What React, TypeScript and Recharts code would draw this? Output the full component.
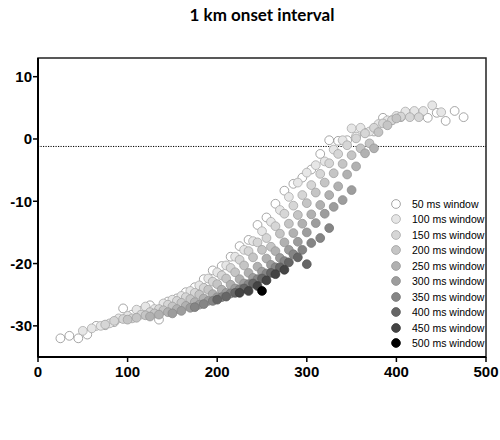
import React from 'react';
import {
  ScatterChart,
  Scatter,
  XAxis,
  YAxis,
  ReferenceLine,
  ReferenceArea,
} from 'recharts';

// window length per series
const WINDOWS = ['50 ms window', '100 ms window', '150 ms window', '200 ms window', '250 ms window',
  '300 ms window', '350 ms window', '400 ms window', '450 ms window', '500 ms window'];

const X_TICKS = [0, 100, 200, 300, 400, 500];
const Y_TICKS = [-30, -20, -10, 0, 10];
const THRESHOLD = -1.2;

// [x, y] pairs
const S50: [number, number][] = [
  [25, -32.0], [35, -31.6], [45, -32.0], [55, -31.4], [65, -30.0], [75, -29.9], [85, -29.4], [95, -27.2],
  [105, -28.2], [115, -27.6], [125, -26.7], [135, -29.0], [145, -26.1], [155, -25.6], [165, -24.6], [175, -23.8],
  [185, -22.5], [195, -21.1], [205, -20.4], [215, -18.9], [225, -17.2], [235, -16.2], [245, -13.8], [255, -12.6],
  [265, -10.4], [275, -8.3], [285, -7.2], [295, -6.2], [305, -4.9], [315, -2.4], [325, -0.2], [335, -0.3],
  [345, -0.2], [355, 0.4], [365, 1.0], [375, 1.2], [385, 3.4], [395, 3.0], [405, 3.5], [415, 4.0],
  [425, 3.9], [435, 3.4], [445, 4.2], [455, 2.9], [465, 4.5], [475, 3.5],
];
const S100: [number, number][] = [
  [50, -30.8], [60, -30.4], [70, -30.0], [80, -29.6], [90, -28.8], [100, -28.4], [110, -27.4], [120, -26.9],
  [130, -27.3], [140, -26.4], [150, -25.8], [160, -25.2], [170, -24.4], [180, -23.5], [190, -22.4], [200, -21.4],
  [210, -20.3], [220, -18.9], [230, -17.8], [240, -16.4], [250, -14.8], [260, -13.3], [270, -11.4], [280, -9.3],
  [290, -7.0], [300, -5.4], [310, -4.2], [320, -3.6], [330, -1.7], [340, -0.2], [350, 1.7], [360, 1.8],
  [370, 1.2], [380, 2.4], [390, 3.0], [400, 3.7], [410, 4.4], [420, 4.5], [430, 4.5], [440, 5.4], [450, 4.3],
];
const S150: [number, number][] = [
  [75, -29.8], [85, -29.2], [95, -28.9], [105, -28.8], [115, -28.2], [125, -27.8], [135, -27.3], [145, -26.6],
  [155, -26.0], [165, -25.4], [175, -24.7], [185, -23.9], [195, -22.9], [205, -21.9], [215, -20.7], [225, -19.4],
  [235, -18.0], [245, -16.6], [255, -15.9], [265, -14.0], [275, -12.0], [285, -10.7], [295, -9.0], [305, -7.4],
  [315, -5.6], [325, -3.9], [335, -2.4], [345, -1.0], [355, 0.1], [365, 0.9], [375, 1.8], [385, 2.5],
  [395, 3.0], [405, 3.6], [415, 3.5], [425, 3.5],
];
const S200: [number, number][] = [
  [100, -29.0], [110, -28.7], [120, -28.3], [130, -28.0], [140, -27.5], [150, -26.9], [160, -26.3], [170, -25.7],
  [180, -25.0], [190, -24.2], [200, -23.3], [210, -22.4], [220, -21.4], [230, -20.3], [240, -19.0], [250, -17.8],
  [260, -17.3], [270, -15.2], [280, -13.6], [290, -12.2], [300, -10.3], [310, -8.6], [320, -7.0], [330, -5.5],
  [340, -4.0], [350, -2.6], [360, -1.5], [370, -0.7], [380, 1.1], [390, 2.2], [400, 3.3],
];
const S250: [number, number][] = [
  [125, -28.5], [135, -28.2], [145, -27.8], [155, -27.3], [165, -26.8], [175, -26.2], [185, -25.6], [195, -24.9],
  [205, -24.2], [215, -23.4], [225, -22.5], [235, -21.5], [245, -20.5], [255, -19.2], [265, -18.0], [275, -16.6],
  [285, -15.1], [295, -13.6], [305, -12.1], [315, -10.6], [325, -9.0], [335, -7.6], [345, -5.7], [355, -4.4],
  [365, -2.3], [375, -1.5],
];
const S300: [number, number][] = [
  [150, -28.0], [160, -27.6], [170, -27.1], [180, -26.6], [190, -26.0], [200, -25.4], [210, -24.7], [220, -24.0],
  [230, -23.2], [240, -22.3], [250, -21.3], [260, -20.2], [270, -19.1], [280, -17.8], [290, -16.5], [300, -15.0],
  [310, -13.5], [320, -12.0], [330, -10.9], [340, -9.8], [350, -8.2],
];
const S350: [number, number][] = [
  [175, -27.0], [185, -26.5], [195, -26.0], [205, -25.4], [215, -24.8], [225, -24.1], [235, -23.3], [245, -22.5],
  [255, -21.6], [265, -20.6], [275, -19.6], [285, -18.5], [295, -17.8], [305, -16.7], [315, -15.9], [325, -14.3],
];
const S400: [number, number][] = [
  [200, -25.8], [210, -25.3], [220, -24.7], [230, -24.0], [240, -23.2], [250, -22.4], [260, -21.5], [270, -20.6],
  [280, -19.8], [290, -19.0], [300, -20.1],
];
const S450: [number, number][] = [
  [225, -24.7], [235, -24.4], [245, -23.6], [255, -22.7], [265, -21.7], [275, -21.0],
];
const S500: [number, number][] = [[250, -24.4]];

const SERIES = [S50, S100, S150, S200, S250, S300, S350, S400, S450, S500];

const FILLS = ['#ffffff', '#e6e6e6', '#d6d6d6', '#c5c5c5', '#b1b1b1', '#9d9d9d', '#858585', '#666666', '#444444', '#000000'];
const STROKES = ['#8f8f8f', '#ababab', '#a6a6a6', '#a0a0a0', '#979797', '#8a8a8a', '#767676', '#5a5a5a', '#3a3a3a', '#000000'];

const R = 4.4;

const tickStyle = { fill: '#000', fontSize: 15, fontWeight: 700, fontFamily: 'Liberation Sans, Arial, sans-serif' };

function Dot(fill: string, stroke: string) {
  return (props: any) => (
    <circle cx={props.cx} cy={props.cy} r={R} fill={fill} stroke={stroke} strokeWidth={0.8} />
  );
}

export default function App() {
  return (
    <div style={{ position: 'absolute', left: 0, top: 0, width: 500, height: 440, background: '#fff' }}>
      <div
        style={{
          position: 'absolute',
          left: 12,
          top: 5,
          width: 500,
          textAlign: 'center',
          fontFamily: 'Lato, "Open Sans", sans-serif',
          fontWeight: 700,
          fontSize: 17,
          lineHeight: '20px',
          color: '#000',
        }}
      >
        1 km onset interval
      </div>

      <ScatterChart width={500} height={440} margin={{ top: 58, right: 14, bottom: 53, left: 0 }}>
        <XAxis
          type="number"
          dataKey="x"
          domain={[0, 500]}
          ticks={X_TICKS}
          interval={0}
          height={30}
          axisLine={{ stroke: '#000', strokeWidth: 2 }}
          tickLine={{ stroke: '#000', strokeWidth: 1.5 }}
          tickSize={5}
          tickMargin={4}
          tick={tickStyle}
        />
        <YAxis
          type="number"
          dataKey="y"
          domain={[-35, 13]}
          ticks={Y_TICKS}
          interval={0}
          width={38}
          axisLine={{ stroke: '#000', strokeWidth: 2 }}
          tickLine={{ stroke: '#000', strokeWidth: 1.5 }}
          tickSize={5}
          tickMargin={1}
          tick={tickStyle}
        />
        <ReferenceArea x1={0} x2={500} y1={-35} y2={13} fill="none" stroke="#222" strokeWidth={1.5} />
        <ReferenceLine y={THRESHOLD} stroke="#000" strokeWidth={1} strokeDasharray="1.2 1.3" />
        {SERIES.map((s, i) => (
          <Scatter
            key={WINDOWS[i]}
            name={WINDOWS[i]}
            data={s.map(([x, y]) => ({ x, y }))}
            shape={Dot(FILLS[i], STROKES[i])}
            isAnimationActive={false}
          />
        ))}
      </ScatterChart>

      <div style={{ position: 'absolute', left: 390, top: 196 }}>
        {WINDOWS.map((w, i) => (
          <div key={w} style={{ display: 'flex', alignItems: 'center', height: 15.5 }}>
            <svg width={12} height={12} style={{ marginRight: 10 }}>
              <circle cx={6} cy={6} r={R} fill={FILLS[i]} stroke={STROKES[i]} strokeWidth={0.8} />
            </svg>
            <span style={{ fontFamily: 'Liberation Sans, Arial, sans-serif', fontSize: 10.5, color: '#000', whiteSpace: 'nowrap' }}>
              {w}
            </span>
          </div>
        ))}
      </div>
    </div>
  );
}
